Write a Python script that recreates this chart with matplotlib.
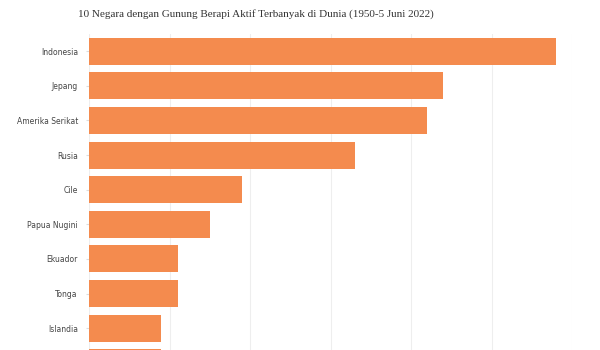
import matplotlib.pyplot as plt

countries = ['Indonesia', 'Jepang', 'Amerika Serikat', 'Rusia', 'Cile',
             'Papua Nugini', 'Ekuador', 'Tonga', 'Islandia', 'Vanuatu']
volcanoes = [58, 44, 42, 33, 19, 15, 11, 11, 9, 9]

fig = plt.figure(figsize=(6, 3.5), dpi=100)
# the source chart is cropped at the bottom, so the axes run past the figure
ax = fig.add_axes([89 / 600, -30 / 350, 483 / 600, 346 / 350])

ax.barh(range(len(countries)), volcanoes, height=0.78, color='#f48b4e')

ax.set_xlim(0, 60)
ax.set_ylim(len(countries) - 0.5, -0.5)
ax.set_yticks(range(len(countries)))
ax.set_yticklabels(countries, fontsize=5.5, color='#444444')
ax.set_xticks(range(0, 61, 10))
ax.tick_params(axis='y', length=2, color='#dddddd', pad=6)
ax.tick_params(axis='x', length=0, labelbottom=False)
ax.grid(axis='x', color='#eeeeee', lw=0.8)
ax.set_axisbelow(True)
for s in ax.spines.values():
    s.set_visible(False)

fig.text(78 / 600, 1 - 14 / 350, '10 Negara dengan Gunung Berapi Aktif Terbanyak di Dunia (1950-5 Juni 2022)',
         family='Liberation Serif', fontsize=8, color='#333333', va='center', ha='left')

fig.savefig('out.png', dpi=100)
